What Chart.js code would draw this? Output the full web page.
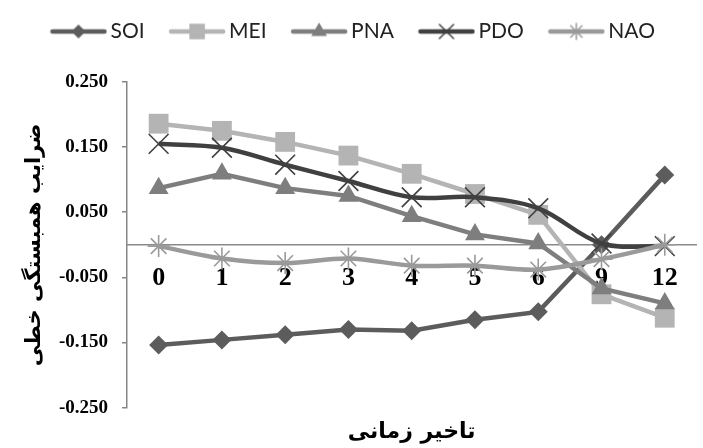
<!DOCTYPE html>
<html><head><meta charset="utf-8">
<script src="https://cdn.jsdelivr.net/npm/chart.js@4.4.1/dist/chart.umd.min.js"></script>
<style>
html,body{margin:0;padding:0;overflow:hidden;background:#fff;}
#wrap{width:712px;height:448px;position:relative;}
</style></head><body>
<div id="wrap"><canvas id="c"></canvas></div>
<script>
const lags = ['0','1','2','3','4','5','6','9','12'];
const seriesNames = ['SOI','MEI','PNA','PDO','NAO'];
const soi = [-0.154,-0.146,-0.138,-0.130,-0.132,-0.115,-0.103,0.000,0.107];
const mei = [0.186,0.175,0.158,0.137,0.109,0.078,0.046,-0.076,-0.112];
const pna = [0.087,0.109,0.087,0.075,0.044,0.016,0.002,-0.067,-0.090];
const pdo = [0.155,0.149,0.123,0.098,0.073,0.073,0.056,0.002,-0.002];
const nao = [-0.002,-0.021,-0.028,-0.021,-0.032,-0.032,-0.038,-0.022,0.000];
const yTicks = [-0.25,-0.15,-0.05,0.05,0.15,0.25];
const yTitle = 'ضرایب همبستگی خطی';
const xTitle = 'تاخیر زمانی';

const styles = [
  {color:'#5c5c5c', point:'rectRot', r:9.5, lr:7, stroke:false},
  {color:'#b4b4b4', point:'rect', r:14, lr:11, stroke:false},
  {color:'#7e7e7e', point:'triangle', r:11.5, lr:9, stroke:false},
  {color:'#404040', point:'crossRot', r:14, lr:10, stroke:true},
  {color:'#9a9a9a', point:'star', r:11, lr:8, stroke:true}
];
const values = [soi, mei, pna, pdo, nao];
const tensions = [0, 0, 0, 0.35, 0.35];

function legendImg(s){
  const c = document.createElement('canvas');
  c.width = 58; c.height = 26;
  const ctx = c.getContext('2d');
  ctx.strokeStyle = s.color; ctx.lineWidth = 4.5; ctx.lineCap = 'round';
  ctx.beginPath(); ctx.moveTo(3,13); ctx.lineTo(55,13); ctx.stroke();
  ctx.fillStyle = s.color; ctx.strokeStyle = s.color;
  ctx.lineWidth = s.stroke ? 1.5 : 0;
  Chart.helpers.drawPoint(ctx, {pointStyle:s.point, rotation:0, radius:s.lr, borderWidth:s.stroke?1.5:0}, 29, 13);
  return c;
}

const datasets = values.map((v,i)=>({
  label: seriesNames[i],
  data: v,
  borderColor: styles[i].color,
  backgroundColor: styles[i].color,
  borderWidth: 4.5,
  tension: tensions[i],
  pointStyle: styles[i].point,
  pointRadius: styles[i].r,
  pointHoverRadius: styles[i].r,
  pointBorderWidth: styles[i].stroke ? 1.6 : 0,
  pointBackgroundColor: styles[i].color,
  pointBorderColor: styles[i].color,
  order: 4 - i,
  clip: false
}));

const legendSpace = {
  id:'legendSpace',
  beforeInit(chart){
    const orig = chart.legend.fit;
    chart.legend.fit = function(){ orig.bind(chart.legend)(); this.height = 92; };
  }
};

new Chart(document.getElementById('c'), {
  type:'line',
  data:{labels:lags, datasets},
  plugins:[legendSpace],
  options:{
    responsive:true, maintainAspectRatio:false, animation:false,
    layout:{padding:{top:-10,left:0,right:0,bottom:0}},
    plugins:{
      tooltip:{enabled:false},
      legend:{
        position:'top',
        labels:{
          usePointStyle:true, pointStyleWidth:43, padding:31,
          font:{family:'Lato', size:21}, color:'#222',
          generateLabels(chart){
            return seriesNames.map((n,i)=>({text:n, pointStyle:legendImg(styles[i]), fillStyle:styles[i].color, strokeStyle:styles[i].color, lineWidth:0, hidden:false, datasetIndex:i, fontColor:'#222'}));
          }
        }
      },
      title:{
        display:true, position:'bottom', fullSize:false, text:xTitle, color:'#000',
        font:{family:'DejaVu Sans', weight:'bold', size:22},
        padding:{top:11,bottom:3}
      }
    },
    scales:{
      x:{
        type:'category', position:{y:0}, offset:true,
        grid:{display:false, drawTicks:false},
        border:{display:true, color:'#8a8a8a', width:1.5},
        ticks:{color:'#000', padding:18, maxRotation:0, autoSkip:false,
          font:{family:'Liberation Serif', weight:'bold', size:26}}
      },
      y:{
        min:-0.25, max:0.25,
        afterBuildTicks(s){ s.ticks = yTicks.map(v=>({value:v})); },
        afterFit(s){ s.width = 127; },
        grid:{display:true, drawOnChartArea:false, drawTicks:true, tickLength:5, color:'#868686', lineWidth:1.5},
        border:{display:true, color:'#868686', width:1.5},
        ticks:{color:'#000', padding:14, callback:v=>v.toFixed(3),
          font:{family:'Liberation Serif', weight:'bold', size:19}},
        title:{display:true, text:yTitle, color:'#000',
          font:{family:'DejaVu Sans', weight:'bold', size:21}, padding:{top:22,bottom:0}}
      }
    }
  }
});
</script>
</body></html>
